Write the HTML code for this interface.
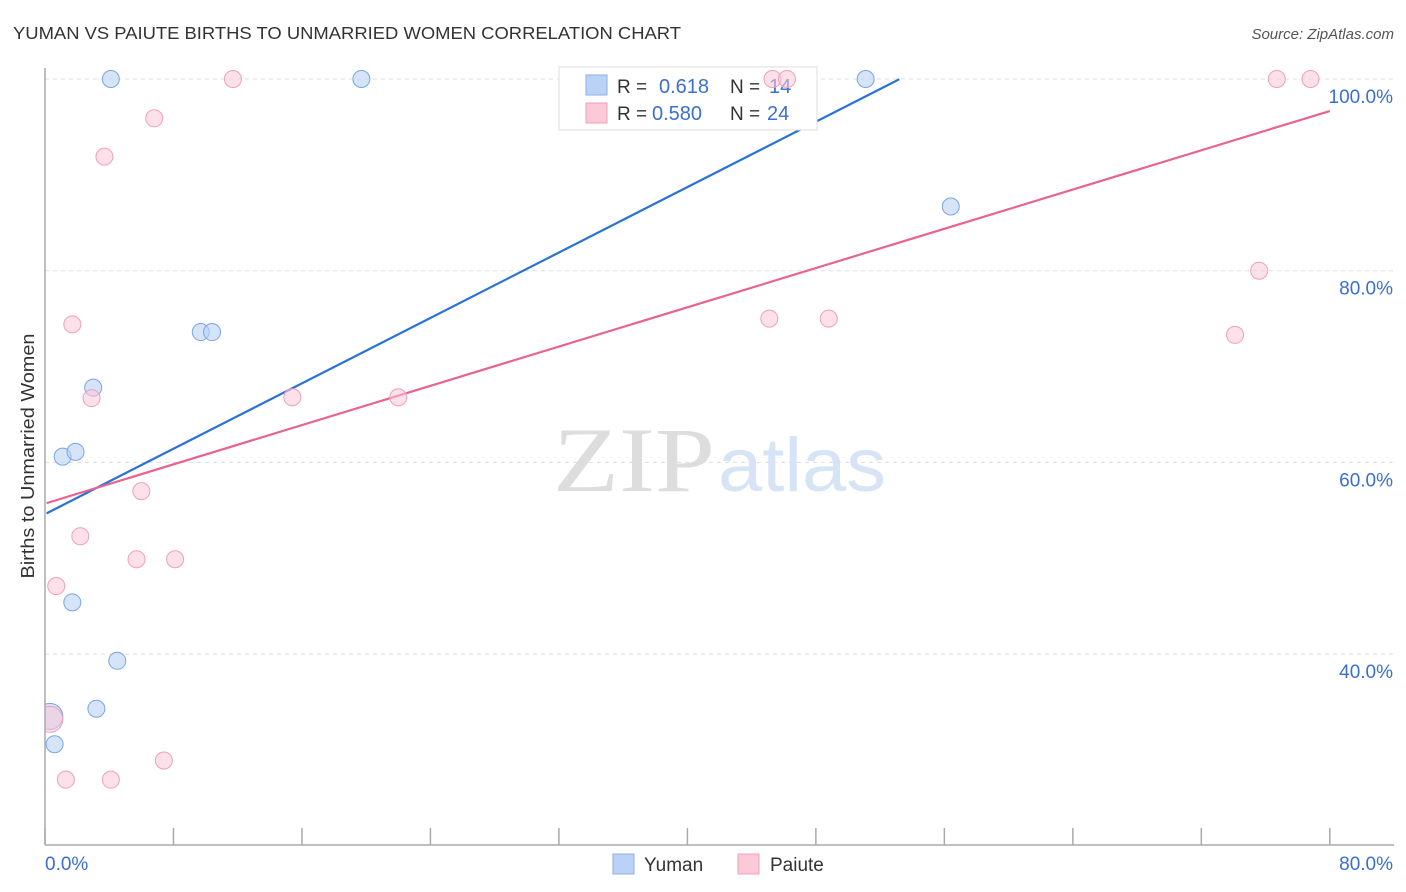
<!DOCTYPE html>
<html><head><meta charset="utf-8"><style>
body{margin:0;background:#fff;width:1406px;height:892px;overflow:hidden;font-family:"Liberation Sans",sans-serif}
svg{position:absolute;left:0;top:0}
</style></head><body>
<svg id="c" width="1406" height="892" xmlns="http://www.w3.org/2000/svg">
<text x="13" y="39" font-size="17.5" fill="#333" textLength="668" lengthAdjust="spacingAndGlyphs">YUMAN VS PAIUTE BIRTHS TO UNMARRIED WOMEN CORRELATION CHART</text>
<text x="1394" y="39" font-size="15" fill="#555" font-style="italic" text-anchor="end">Source: ZipAtlas.com</text>
<text transform="translate(34,456) rotate(-90)" font-size="18" fill="#333" text-anchor="middle" textLength="245" lengthAdjust="spacingAndGlyphs">Births to Unmarried Women</text>
<g id="grid"></g>
<text x="553" y="491" font-size="92" fill="#ddd" font-family="Liberation Serif,serif" textLength="162" lengthAdjust="spacingAndGlyphs">ZIP</text>
<text x="718" y="491" font-size="76" fill="#d6e4f5" textLength="168" lengthAdjust="spacingAndGlyphs">atlas</text>
<defs><clipPath id="pc"><rect x="45" y="60" width="1360" height="785"/></clipPath></defs>
<g id="lines"></g>
<g>
<rect x="559" y="67" width="258" height="63" fill="#fff" stroke="#ddd"/>
<rect x="586" y="75" width="21" height="20" fill="#b9d2f5" stroke="#8ab0e6"/>
<rect x="586" y="103" width="21" height="20" fill="#fbc9d8" stroke="#f0a0b8"/>
<text x="617" y="93" font-size="19" fill="#333">R =</text><text x="659" y="93" font-size="20" fill="#3a6fd0">0.618</text>
<text x="730" y="93" font-size="19" fill="#333">N =</text><text x="769" y="93" font-size="20" fill="#3a6fd0">14</text>
<text x="617" y="120" font-size="19" fill="#333">R =</text><text x="652" y="120" font-size="20" fill="#3a6fd0">0.580</text>
<text x="730" y="120" font-size="19" fill="#333">N =</text><text x="767" y="120" font-size="20" fill="#3a6fd0">24</text>
</g>
<g id="pts" clip-path="url(#pc)"></g>
<line x1="45" y1="68" x2="45" y2="845" stroke="#aaa" stroke-width="1.5"/>
<line x1="45" y1="845" x2="1394" y2="845" stroke="#aaa" stroke-width="1.5"/>
<g id="ticks"></g>
<text x="45" y="870" font-size="19" fill="#3a6fd0">0.0%</text>
<text x="1393" y="870" font-size="19" fill="#3a6fd0" text-anchor="end">80.0%</text>
<g>
<rect x="613" y="854" width="21" height="20" fill="#b9d2f5" stroke="#8ab0e6"/>
<text x="644" y="871" font-size="19" fill="#333">Yuman</text>
<rect x="738" y="854" width="21" height="20" fill="#fbc9d8" stroke="#f0a0b8"/>
<text x="770" y="871" font-size="19" fill="#333">Paiute</text>
</g>
</svg>
<script>
const yTicks=[40,60,80,100];
const yumanX=[4.1,19.7,51.1,56.4,9.7,10.4,3.0,1.1,1.9,1.7,4.5,3.2,0.3,0.6];
const yumanY=[100,100,100,86.7,73.6,73.6,67.8,60.6,61.1,45.4,39.3,34.3,33.5,30.6];
const yumanR=[8.5,8.5,8.5,8.5,8.5,8.5,8.5,8.5,8.5,8.5,8.5,8.5,13,8.5];
const paiuteX=[11.7,45.3,46.2,76.7,78.8,6.8,3.7,1.7,75.6,45.1,48.8,74.1,2.9,15.4,22.0,6.0,2.2,5.7,8.1,0.7,0.3,1.3,4.1,7.4];
const paiuteY=[100,100,100,100,100,95.9,91.9,74.4,80.0,75.0,75.0,73.3,66.7,66.8,66.8,57.0,52.3,49.9,49.9,47.1,33.2,26.9,26.9,28.9];
const paiuteR=[8.5,8.5,8.5,8.5,8.5,8.5,8.5,8.5,8.5,8.5,8.5,8.5,8.5,8.5,8.5,8.5,8.5,8.5,8.5,8.5,13,8.5,8.5,8.5];
const trendIntercept=[54.6,55.7];
const trendSlope=[0.853,0.512];
const trendEnd=[53.2,80];
const X=v=>45+v*16.06, Y=v=>79+(100-v)*9.585;
const NS='http://www.w3.org/2000/svg';
function mk(t,a,p){const e=document.createElementNS(NS,t);for(const k in a)e.setAttribute(k,a[k]);p.appendChild(e);return e;}
const grid=document.getElementById('grid');
yTicks.forEach(t=>{
 const l=mk('line',{x1:45,x2:1394,y1:Y(t),y2:Y(t),stroke:'#ddd','stroke-dasharray':'4,4'},grid);
 
 
 const tx=mk('text',{x:1393,y:Y(t)+24,'font-size':19,fill:'#3a6fd0','text-anchor':'end'},grid);
 tx.textContent=t.toFixed(1)+'%';
 
 
});
const ticks=document.getElementById('ticks');
for(let i=0;i<=10;i++){
 const l=mk('line',{x1:X(i*8),x2:X(i*8),y1:828,y2:845,stroke:'#aaa','stroke-width':1.5},ticks);
 
 
}
const pts=document.getElementById('pts');
yumanX.forEach((x,i)=>{
 const c=mk('circle',{cx:X(x),cy:Y(yumanY[i]),r:yumanR[i],fill:'#b9d2f5','fill-opacity':0.6,stroke:'#7aa6e0','stroke-width':1},pts);
 
 
});
paiuteX.forEach((x,i)=>{
 const c=mk('circle',{cx:X(x),cy:Y(paiuteY[i]),r:paiuteR[i],fill:'#fbc9d8','fill-opacity':0.55,stroke:'#eea0b8','stroke-width':1},pts);
 
 
});
const lines=document.getElementById('lines');
const cols=['#2a72d6','#e8638e'];
[0,1].forEach(i=>{
 const x0=0.1,x1=trendEnd[i];
 const l=mk('line',{x1:X(x0),y1:Y(trendIntercept[i]+trendSlope[i]*x0),x2:X(x1),y2:Y(trendIntercept[i]+trendSlope[i]*x1),stroke:cols[i],'stroke-width':2.2},lines);
 
 
});
</script>
</body></html>
